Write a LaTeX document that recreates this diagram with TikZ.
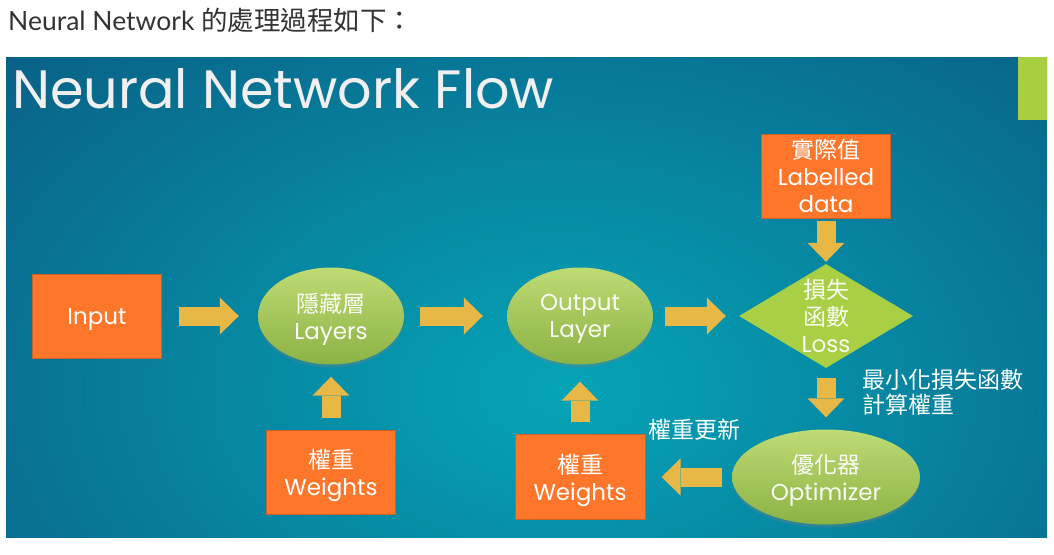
\documentclass[tikz,border=0pt]{standalone}
\usepackage{fontspec}
\setmainfont{Poppins}
\newfontfamily\cjk{Noto Sans CJK TC}
\newfontfamily\weblato{Lato}
\usetikzlibrary{shapes.geometric,arrows.meta,shadows}

\definecolor{slidenavy}{HTML}{0B3D6D}
\definecolor{slideteal}{HTML}{05A4B7}
\definecolor{boxorange}{HTML}{FE7629}
\definecolor{boxedge}{HTML}{CC6128}
\definecolor{leaftop}{HTML}{BEDB74}
\definecolor{leafbot}{HTML}{8CB244}
\definecolor{diagreen}{HTML}{A9CF45}
\definecolor{arrowgold}{HTML}{E8B846}
\definecolor{accentgreen}{HTML}{A7CF3F}
\definecolor{captiongray}{HTML}{333333}

\newcommand{\slidetext}{\fontsize{23pt}{27pt}\selectfont}

\begin{document}
\begin{tikzpicture}[
        x=1pt, y=-1pt,
        box/.style={
            draw=boxedge, line width=1pt, fill=boxorange,
            minimum width=129pt, minimum height=84pt, inner sep=0pt,
            align=center, text=white, font=\slidetext, text depth=0pt
        },
        leaf/.style={
            ellipse, top color=leaftop, bottom color=leafbot,
            minimum width=146pt, minimum height=97pt, inner sep=0pt,
            align=center, text=white!92!leaftop, font=\slidetext, text depth=0pt,
            drop shadow={opacity=0.3, shadow xshift=0pt, shadow yshift=-3pt}
        },
        lossbox/.style={
            diamond, fill=diagreen, minimum width=174pt, minimum height=104pt,
            inner sep=0pt
        },
        losstext/.style={text=white!94!diagreen, align=center, font=\slidetext, inner sep=0pt},
        flow/.style={
            draw=arrowgold, line width=19pt,
            -{Triangle[length=19pt, width=37pt, line width=0pt]}
        },
        note/.style={text=white, font=\cjk\fontsize{23pt}{25pt}\selectfont, align=left, inner sep=0pt}
    ]
        \useasboundingbox (0,0) rectangle (1054,554);
        \fill[white] (0,0) rectangle (1054,554);

        % CAPTION
        \node[anchor=base west, inner sep=0pt, text=captiongray,
            font=\weblato\fontsize{26.5pt}{30pt}\selectfont] (caption) at (8,30)
            {Neural Network {\cjk 的處理過程如下：}};

        % SLIDE BACKGROUND
        \begin{scope}
            \clip (6,57) rectangle (1047,537);
            \fill[slidenavy] (6,57) rectangle (1047,537);
            \shade[inner color=slideteal, outer color=slidenavy] (560,390) ellipse (1150pt and 760pt);
        \end{scope}
        \fill[accentgreen] (1018,57) rectangle (1047,120);

        \node[anchor=base west, inner sep=0pt, text=white!94!black,
            font=\fontsize{54pt}{60pt}\selectfont] (title) at (12,108) {Neural Network Flow};

        % MAIN ROW
        \node[box] (input) at (97,316) {Input};
        \node[leaf] (hidden) at (331,316) {{\cjk 隱藏層}\\Layers};
        \node[leaf] (output) at (580,316) {Output\\Layer};
        \node[lossbox, label={[losstext]center:{{\cjk 損失}\\{\cjk 函數}\\Loss}}] (loss) at (826,316) {};

        % LABELLED DATA
        \node[box] (labels) at (826,176) {{\cjk 實際值}\\Labelled\\data};

        % WEIGHTS
        \node[box] (weights1) at (331,472) {{\cjk 權重}\\Weights};
        \node[box, minimum width=130pt, minimum height=85pt] (weights2) at (580,477) {{\cjk 權重}\\Weights};

        % OPTIMIZER
        \node[leaf, minimum width=188pt, minimum height=95pt] (optimizer) at (826,477) {{\cjk 優化器}\\Optimizer};

        \node[note, anchor=north west] (minloss) at (862,369) {最小化損失函數\\計算權重};
        \node[note, anchor=north west] (update) at (648,419) {權重更新};

        % ARROWS
        \draw[flow, shorten <=17pt, shorten >=19pt] (input) -- (hidden);
        \draw[flow, shorten <=16pt, shorten >=24pt] (hidden) -- (output);
        \draw[flow, shorten <=12pt, shorten >=13pt] (output) -- (loss);
        \draw[flow, shorten <=2pt, shorten >=2pt] (labels) -- (loss);
        \draw[flow, shorten <=10pt, shorten >=12pt] (loss) -- (optimizer);
        \draw[flow, shorten <=10pt, shorten >=16pt] (optimizer) -- (weights2);
        \draw[flow, shorten <=12pt, shorten >=12pt] (weights1) -- (hidden);
        \draw[flow, shorten <=12pt, shorten >=17pt] (weights2) -- (output);
    \end{tikzpicture}
\end{document}
